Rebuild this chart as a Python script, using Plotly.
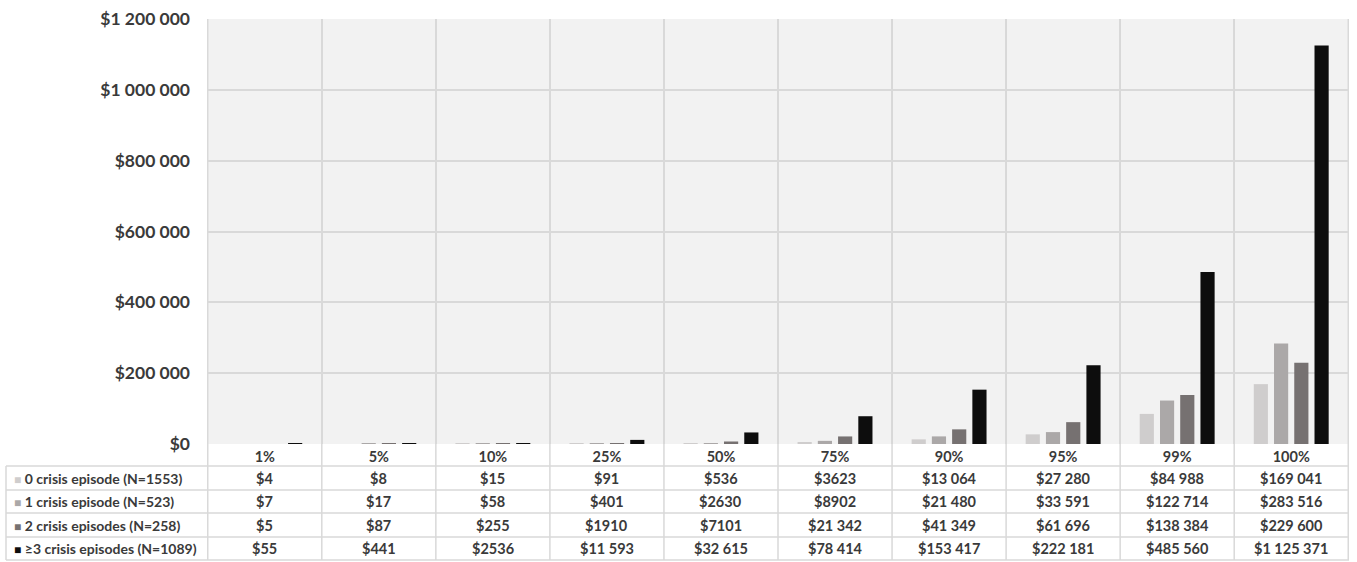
import plotly.graph_objects as go

W, H = 1357, 562

percentiles = ["1%", "5%", "10%", "25%", "50%", "75%", "90%", "95%", "99%", "100%"]

crisis_0 = [4, 8, 15, 91, 536, 3623, 13064, 27280, 84988, 169041]
crisis_1 = [7, 17, 58, 401, 2630, 8902, 21480, 33591, 122714, 283516]
crisis_2 = [5, 87, 255, 1910, 7101, 21342, 41349, 61696, 138384, 229600]
crisis_3 = [55, 441, 2536, 11593, 32615, 78414, 153417, 222181, 485560, 1125371]

series_names = [
    "0 crisis episode (N=1553)",
    "1 crisis episode (N=523)",
    "2 crisis episodes (N=258)",
    "≥3 crisis episodes (N=1089)",
]
series_values = [crisis_0, crisis_1, crisis_2, crisis_3]
colors = ["#cfcdcd", "#aba8a8", "#767171", "#0d0d0d"]

FONT = "Lato"
TXT = "#3a3a3a"
GRID = "#d9d9d9"

# pixel layout (from the top-left corner)
plot_left, plot_right = 207, 1349
plot_top, plot_bottom = 19, 444
table_left = 6
row_lines = [466, 490, 513, 537, 560]


def px_x(p):
    return p / W


def px_y(p):
    return 1 - p / H


def money(v):
    if v >= 10000:
        return "$" + f"{v:,}".replace(",", " ")
    return "$" + str(v)


fig = go.Figure()
for name, vals, col in zip(series_names, series_values, colors):
    fig.add_trace(go.Bar(x=percentiles, y=vals, name=name, marker_color=col,
                         marker_line_width=0))

shapes = []
# horizontal table lines
for y in row_lines:
    shapes.append(dict(type="line", xref="paper", yref="paper",
                       x0=px_x(table_left), x1=px_x(plot_right),
                       y0=px_y(y), y1=px_y(y), line=dict(color=GRID, width=1.5)))
# vertical table lines at category boundaries
for i in range(len(percentiles) + 1):
    shapes.append(dict(type="line", xref="x", yref="paper",
                       x0=i - 0.5, x1=i - 0.5,
                       y0=px_y(plot_top), y1=px_y(row_lines[-1]),
                       line=dict(color=GRID, width=1.5)))
shapes.append(dict(type="line", xref="paper", yref="paper",
                   x0=px_x(table_left), x1=px_x(table_left),
                   y0=px_y(row_lines[0]), y1=px_y(row_lines[-1]),
                   line=dict(color=GRID, width=1.5)))

annotations = []
for r, (name, vals, col) in enumerate(zip(series_names, series_values, colors)):
    yc = px_y((row_lines[r] + row_lines[r + 1]) / 2)
    annotations.append(dict(
        xref="paper", yref="paper", x=px_x(table_left + 6), y=yc,
        xanchor="left", yanchor="middle", showarrow=False,
        text=f"<span style='color:{col};font-size:12px'>■</span> <b>{name}</b>",
        font=dict(family=FONT, size=14, color=TXT)))
    for cat, v in zip(percentiles, vals):
        annotations.append(dict(
            xref="x", yref="paper", x=cat, y=yc,
            xanchor="center", yanchor="middle", showarrow=False,
            text=f"<b>{money(v)}</b>",
            font=dict(family=FONT, size=14.5, color=TXT)))

fig.update_layout(
    width=W, height=H,
    margin=dict(l=0, r=0, t=0, b=0, autoexpand=False),
    paper_bgcolor="white",
    plot_bgcolor="#f2f2f2",
    separators=". ",
    showlegend=False,
    barmode="group",
    bargap=0.29,
    bargroupgap=0.3,
    shapes=shapes,
    annotations=annotations,
    font=dict(family=FONT, color=TXT),
    xaxis=dict(
        domain=[px_x(plot_left), px_x(plot_right)],
        type="category",
        automargin=False,
        tickson="boundaries",
        showgrid=True, gridcolor=GRID, gridwidth=1.5,
        ticks="", showline=False, zeroline=False,
        ticklabelstandoff=2,
        tickfont=dict(family=FONT, size=14.5, color=TXT, weight="bold"),
    ),
    yaxis=dict(
        domain=[px_y(plot_bottom), px_y(plot_top)],
        range=[0, 1200000], dtick=200000,
        automargin=False,
        tickprefix="$", tickformat=",d",
        showgrid=True, gridcolor=GRID, gridwidth=1.5,
        zeroline=False, showline=False, ticks="",
        ticklabelstandoff=16,
        tickfont=dict(family=FONT, size=17.5, color=TXT, weight="bold"),
    ),
)

fig.write_html("out.html", config={"displayModeBar": False},
               post_script="document.body.style.margin='0';")
